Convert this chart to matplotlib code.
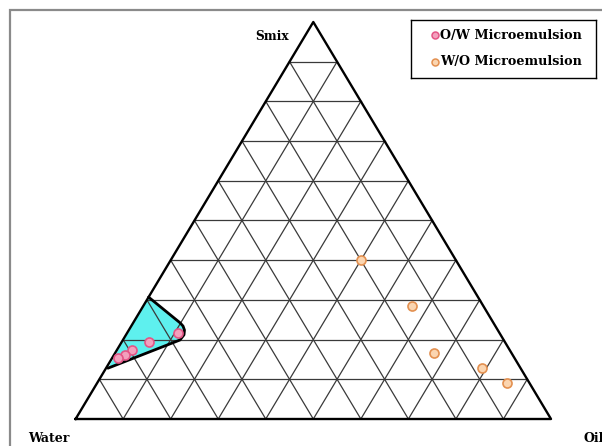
import numpy as np
import matplotlib.pyplot as plt
from matplotlib.patches import Rectangle, Polygon

# compositions as (water, oil, smix) fractions
ow_water = [0.749, 0.676, 0.794, 0.816, 0.834]
ow_oil = [0.057, 0.107, 0.032, 0.023, 0.012]
ow_smix = [0.194, 0.217, 0.174, 0.161, 0.154]

wo_water = [0.20, 0.149, 0.163, 0.081, 0.048]
wo_oil = [0.40, 0.566, 0.671, 0.791, 0.861]
wo_smix = [0.40, 0.285, 0.166, 0.128, 0.091]

# boundary of the microemulsion region (right side, from top to bottom)
region_oil = [0.0, 0.099, 0.109, 0.117, 0.122, 0.12, 0.004]
region_smix = [0.307, 0.242, 0.234, 0.224, 0.212, 0.199, 0.128]

corner_labels = ["Water", "Oil", "Smix"]
series_labels = ["O/W Microemulsion", "W/O Microemulsion"]

H = np.sqrt(3) / 2
ow_style = dict(mfc='#f3a0bd', mec='#e45586')
wo_style = dict(mfc='#fbd5b0', mec='#e39050')


def to_xy(oil, smix):
    oil = np.asarray(oil)
    smix = np.asarray(smix)
    return oil + smix / 2, smix * H


plt.rcParams['font.family'] = ['DejaVu Serif']

fig = plt.figure(figsize=(6.02, 4.46), dpi=100)
ax = fig.add_axes([75.6 / 602, 27 / 446, 475.4 / 602, 397 / 446])
ax.set_xlim(0, 1)
ax.set_ylim(0, H)
ax.axis('off')

# outer frame
fig.patches.append(Rectangle((10 / 602, -0.2), 1.2, 1 - 10 / 446 + 0.2,
                             transform=fig.transFigure, fill=False,
                             edgecolor='#8a8a8a', lw=1.6))

# grid lines parallel to each side
grid_kw = dict(color='#3a3a3a', lw=0.9)
for k in range(1, 10):
    t = k / 10
    x0, y0 = to_xy(0, t)
    x1, y1 = to_xy(1 - t, t)
    ax.plot([x0, x1], [y0, y1], **grid_kw)
    x0, y0 = to_xy(t, 0)
    x1, y1 = to_xy(t, 1 - t)
    ax.plot([x0, x1], [y0, y1], **grid_kw)
    x0, y0 = to_xy(0, 1 - t)
    x1, y1 = to_xy(1 - t, 0)
    ax.plot([x0, x1], [y0, y1], **grid_kw)

# triangle outline
tx, ty = to_xy([0, 1, 0, 0], [0, 0, 1, 0])
ax.plot(tx, ty, color='black', lw=1.7, clip_on=False)

# microemulsion region
rx, ry = to_xy(region_oil, region_smix)
ax.add_patch(Polygon(np.column_stack([rx, ry]), closed=True,
                     facecolor='#5ef0ee', edgecolor='none'))
ax.plot(rx, ry, color='black', lw=2.0, solid_capstyle='round')

ox, oy = to_xy(ow_oil, ow_smix)
ax.plot(ox, oy, 'o', ms=6.5, mew=1.2, ls='none', clip_on=False, **ow_style)
wx, wy = to_xy(wo_oil, wo_smix)
ax.plot(wx, wy, 'o', ms=6.5, mew=1.2, ls='none', clip_on=False, **wo_style)

# legend box
lax = fig.add_axes([411 / 602, 1 - 78 / 446, 185 / 602, 58 / 446])
lax.set_xlim(0, 185)
lax.set_ylim(58, 0)
lax.set_xticks([])
lax.set_yticks([])
for sp in lax.spines.values():
    sp.set_linewidth(1.0)
    sp.set_color('black')
for yy, lab, st in [(15, series_labels[0], ow_style), (42, series_labels[1], wo_style)]:
    lax.plot([24], [yy], 'o', ms=5, mew=1.1, **st)
    lax.text(29, yy, lab, ha='left', va='center', fontsize=9.2,
             fontweight='bold')

fig.text(272 / 602, 1 - 37 / 446, corner_labels[2], ha='center', va='center',
         fontsize=8.8, fontweight='bold')
fig.text(49 / 602, 1 - 439 / 446, corner_labels[0], ha='center', va='center',
         fontsize=9, fontweight='bold')
fig.text(583 / 602, 1 - 439 / 446, corner_labels[1], ha='left', va='center',
         fontsize=9, fontweight='bold')

fig.savefig('out.png', dpi=100)
